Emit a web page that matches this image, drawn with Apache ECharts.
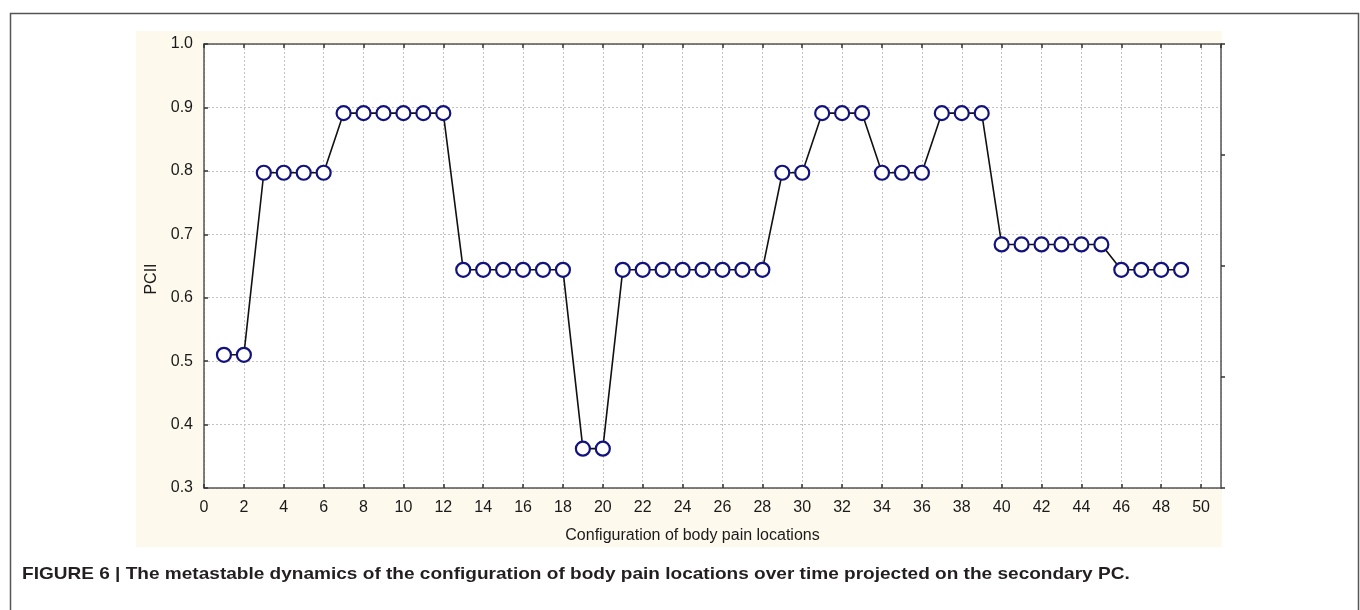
<!DOCTYPE html>
<html>
<head>
<meta charset="utf-8">
<script src="https://cdn.jsdelivr.net/npm/echarts@6/dist/echarts.min.js"></script>
<style>
html,body{margin:0;padding:0;background:#fff;}
#chart{width:1360px;height:610px;}
</style>
</head>
<body>
<div id="chart"></div>
<script>
// Data
const configIndex = [1,2,3,4,5,6,7,8,9,10,11,12,13,14,15,16,17,18,19,20,21,22,23,24,25,26,27,28,29,30,31,32,33,34,35,36,37,38,39,40,41,42,43,44,45,46,47,48,49];
const pcII = [0.510,0.510,0.797,0.797,0.797,0.797,0.891,0.891,0.891,0.891,0.891,0.891,0.644,0.644,0.644,0.644,0.644,0.644,0.362,0.362,0.644,0.644,0.644,0.644,0.644,0.644,0.644,0.644,0.797,0.797,0.891,0.891,0.891,0.797,0.797,0.797,0.891,0.891,0.891,0.684,0.684,0.684,0.684,0.684,0.684,0.644,0.644,0.644,0.644];
const xTitle = 'Configuration of body pain locations';
const yTitle = 'PCII';
const caption = 'FIGURE 6 | The metastable dynamics of the configuration of body pain locations over time projected on the secondary PC.';

const chart = echarts.init(document.getElementById('chart'), null, {renderer:'canvas'});
const FONT = '"Liberation Sans", Arial, sans-serif';
const axisLineStyle = {color:'#555', width:1.5};
const gridLineStyle = {color:'#c4c4c4', width:1, type:[2,2]};
const tickStyle = {color:'#333', width:1.5};

chart.setOption({
  animation:false,
  backgroundColor:'#fff',
  graphic:[
    {type:'rect', left:8, top:11, shape:{width:1348, height:620}, style:{fill:'none', stroke:'#555', lineWidth:1.5}, z:-10},
    {type:'rect', left:136, top:31, shape:{width:1086, height:516}, style:{fill:'#fdf9ed'}, z:-9},
    {type:'rect', left:204, top:44, shape:{width:1017, height:444}, style:{fill:'#fff'}, z:-8},
    {type:'text', x:22, y:566, scaleX:1.12, style:{text:caption, font:'bold 17px "Liberation Sans", Arial, sans-serif', fill:'#231f20'}}
  ],
  grid:{left:204, top:44, right:139, bottom:122, show:false},
  xAxis:[
    {type:'value', min:0, max:51, interval:2, position:'bottom',
     name:xTitle, nameLocation:'middle', nameGap:40,
     nameTextStyle:{fontFamily:FONT, fontSize:16, color:'#1a1a1a', padding:[0,40,0,0]},
     axisLine:{show:true, onZero:false, lineStyle:axisLineStyle},
     axisTick:{show:true, inside:true, length:4, lineStyle:tickStyle},
     axisLabel:{fontFamily:FONT, fontSize:16, color:'#1a1a1a', margin:12, showMaxLabel:false,
       formatter:v => (v % 2 === 0 ? String(v) : '')},
     splitLine:{show:true, lineStyle:gridLineStyle}},
    {type:'value', min:0, max:51, interval:2, position:'top',
     axisLine:{show:true, onZero:false, lineStyle:axisLineStyle},
     axisTick:{show:true, inside:true, length:4, lineStyle:tickStyle},
     axisLabel:{show:false}, splitLine:{show:false}}
  ],
  yAxis:[
    {type:'value', min:0.3, max:1.0, interval:0.1, position:'left',
     name:yTitle, nameLocation:'middle', nameGap:38,
     nameTextStyle:{fontFamily:FONT, fontSize:16, color:'#1a1a1a', padding:[0,26,0,0]},
     axisLine:{show:true, onZero:false, lineStyle:axisLineStyle},
     axisTick:{show:true, inside:true, length:4, lineStyle:tickStyle},
     axisLabel:{fontFamily:FONT, fontSize:16, color:'#1a1a1a', margin:11, formatter:v => v.toFixed(1)},
     splitLine:{show:true, lineStyle:gridLineStyle}},
    {type:'value', min:0, max:4, interval:1, position:'right',
     axisLine:{show:true, onZero:false, lineStyle:axisLineStyle},
     axisTick:{show:true, inside:false, length:4, lineStyle:tickStyle},
     axisLabel:{show:false}, splitLine:{show:false}}
  ],
  series:[{
    type:'line', xAxisIndex:0, yAxisIndex:0,
    data: configIndex.map((x,i) => [x, pcII[i]]),
    symbol:'circle', symbolSize:14,
    lineStyle:{color:'#111', width:1.6},
    itemStyle:{color:'#fff', borderColor:'#12127f', borderWidth:2.2},
    z:5
  }]
});
</script>
</body>
</html>
